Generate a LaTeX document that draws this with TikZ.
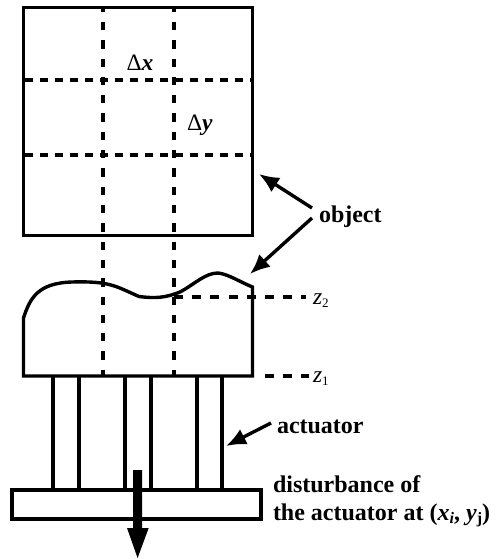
\documentclass[tikz,border=0pt]{standalone}
\usepackage{fontspec}
\setmainfont{Liberation Serif}
\usetikzlibrary{arrows.meta}
\newcommand{\lblsize}{\fontsize{24}{28}\selectfont}
\newcommand{\subsize}{\fontsize{16}{18}\selectfont}
\newcommand{\zsub}{\fontsize{13}{15}\selectfont}
\newcommand{\Dl}{\fontsize{23.5}{27}\selectfont}
\tikzset{
  x=1pt,y=-1pt,
  solidline/.style={line width=3.4pt,line join=miter},
  vdash/.style={line width=3.9pt,dash pattern=on 8.3pt off 10pt,dash phase=3.3pt},
  hdash/.style={line width=3.4pt,dash pattern=on 8pt off 7pt},
  zdash/.style={line width=3.4pt,dash pattern=on 9pt off 9.2pt},
  pointer/.style={line width=3.4pt,-{Latex[length=20pt,width=17pt]}},
  lbl/.style={anchor=base west,inner sep=0pt,outer sep=0pt,font=\lblsize\bfseries},
  plain/.style={anchor=base west,inner sep=0pt,outer sep=0pt,font=\Dl},
}
\begin{document}
\begin{tikzpicture}
\useasboundingbox (0,0) rectangle (500,559);
% dashed grid
\draw[vdash] (103,7) -- (103,376);
\draw[vdash] (174,7) -- (174,376);
\draw[hdash] (25,80) -- (251,80);
\draw[hdash] (25,155) -- (251,155);
\draw[zdash] (174,297) -- (306,297);
\draw[zdash] (265,376) -- (309,376);
% object top
\node[draw,solidline,minimum width=229pt,minimum height=228pt,inner sep=0pt,outer sep=0pt] (grid) at (138,121.5) {};
% object side
\draw[solidline] (23.5,376) -- (23.5,318)
  .. controls (30,298) and (38,283) .. (72,282)
  .. controls (110,281) and (115,286) .. (139,296.5)
  .. controls (155,298.5) and (165,298) .. (180,292)
  .. controls (195,284) and (205,273) .. (218,273)
  .. controls (228,274) and (240,282) .. (252.5,287)
  -- (252.5,376) -- cycle;
% actuators
\foreach \a in {53,79,125,151,197,222}{
  \draw[line width=3.1pt] (\a,376) -- (\a,490);
}
\node[draw,line width=3.4pt,fill=white,minimum width=249pt,minimum height=29pt,inner sep=0pt,outer sep=0pt] (base) at (136.5,504.5) {};
% disturbance arrow
\fill (133.2,470) -- (142,470) -- (142,528) -- (148.7,528) -- (137.6,558) -- (127,528) -- (133.2,528) -- cycle;
% labels
\node[plain] (dx) at (126.5,70.5) {Δ\textit{\textbf{x}}};
\node[plain] (dy) at (187,131) {Δ\textit{\textbf{y}}};
\node[lbl] (obj) at (319,222) {object};
\node[lbl] (act) at (277,433) {actuator};
\node[lbl] (dist1) at (273,492) {disturbance of};
\node[lbl] (dist2) at (273,520) {the actuator at (\textit{x\kern0pt\raisebox{-3pt}{\subsize i}}, \textit{y}\raisebox{-3pt}{\subsize j})};
\node[plain] (z2) at (313,304) {\textit{z}\raisebox{-3pt}{\zsub 2}};
\node[plain] (z1) at (313,382.5) {\textit{z}\raisebox{-3pt}{\zsub 1}};
% pointers
\coordinate (o1) at (312,208);
\coordinate (o2) at (312,218);
\coordinate (o1t) at (259,174);
\coordinate (o2t) at (250,274);
\coordinate (a1) at (271,423);
\coordinate (a1t) at (226,446);
\draw[pointer] (o1) -- (o1t);
\draw[pointer] (o2) -- (o2t);
\draw[pointer] (a1) -- (a1t);
\end{tikzpicture}
\end{document}
